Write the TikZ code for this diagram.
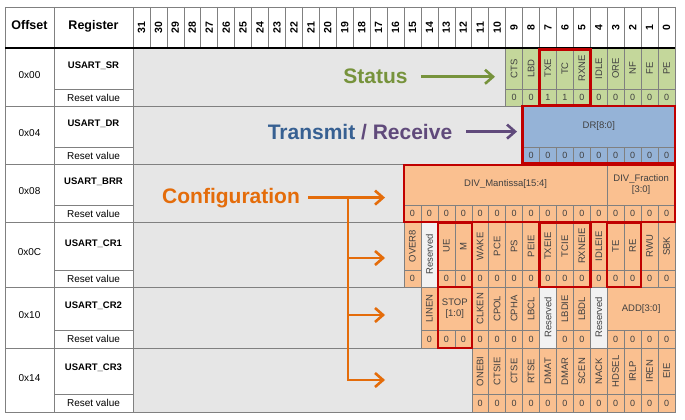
\documentclass[tikz,border=0pt]{standalone}
\usepackage{fontspec}
\setmainfont{Liberation Sans}
\usetikzlibrary{arrows.meta}

\definecolor{srgreen}{HTML}{C4D79B}
\definecolor{drblue}{HTML}{95B3D7}
\definecolor{cforange}{HTML}{FAC090}
\definecolor{bggray}{HTML}{E6E6E6}
\definecolor{rsvgray}{HTML}{F2F2F2}
\definecolor{gridgray}{HTML}{808080}
\definecolor{boxred}{HTML}{C00000}
\definecolor{statgreen}{HTML}{77933C}
\definecolor{txblue}{HTML}{376092}
\definecolor{rxpurple}{HTML}{604A7B}
\definecolor{cfgorange}{HTML}{E46C0A}
\definecolor{celltext}{HTML}{404040}

\tikzset{
  declare function={bx(\k)=133+(31-\k)*16.9375;},
  cell/.style={draw=gridgray, line width=0.5pt},
  gridline/.style={draw=gridgray, line width=0.6pt},
  bitname/.style={rotate=90, inner sep=0pt, text=celltext, font=\fontsize{9.5}{10}\selectfont},
  fieldname/.style={inner sep=0pt, align=center, text=celltext, font=\fontsize{9.5}{11}\selectfont},
  rstval/.style={inner sep=0pt, text=celltext, font=\fontsize{9}{10}\selectfont},
  bitnum/.style={rotate=90, inner sep=0pt, font=\bfseries\fontsize{10.5}{12}\selectfont},
  hdr/.style={inner sep=0pt, anchor=base, font=\bfseries\fontsize{12.5}{14}\selectfont},
  regname/.style={inner sep=0pt, font=\bfseries\fontsize{9.5}{11}\selectfont},
  regtext/.style={inner sep=0pt, font=\fontsize{10}{12}\selectfont},
  redbox/.style={draw=boxred, line width=2.4pt},
  callout/.style={inner sep=0pt, anchor=base, font=\bfseries\fontsize{21}{24}\selectfont},
  arr/.style={line width=2.6pt, -{Straight Barb[length=8pt,width=14pt]}},
}

% one field: name, high bit, low bit, top, bottom, fill, text style, text
\newcommand{\regfield}[8]{%
  \draw[cell, fill=#6] ({bx(#2)},#4) rectangle ({bx(#3-1)},#5);
  \node[#7] (#1) at ({(bx(#2)+bx(#3-1))/2},{(#4+#5)/2}) {#8};}

\begin{document}
\begin{tikzpicture}[x=1pt,y=-1pt]
    \useasboundingbox (0,0) rectangle (685,420);
    \fill[bggray] (133,48) rectangle (675,412);

    % header
    \node[hdr] (offhd) at (29.5,29.5) {Offset};
    \node[hdr] (reghd) at (93.5,29.5) {Register};
    \foreach \k in {-1,...,30} \draw[gridline] ({bx(\k)},7) -- ({bx(\k)},48);
    \foreach \k in {0,...,31} \node[bitnum] (h\k) at ({bx(\k)+8.47},27.5) {\k};

    % offset and register columns
    \foreach \n/\o/\r/\t/\m/\e/\dy in {sr/0x00/USART\_SR/48/89/106/18,
        dr/0x04/USART\_DR/106/147/164/18, brr/0x08/USART\_BRR/164/205/222/18,
        cra/0x0C/USART\_CR1/222/270.5/287/22, crb/0x10/USART\_CR2/287/330.5/348/19,
        crc/0x14/USART\_CR3/348/394.5/412/20}{
      \node[regtext] (off\n) at (29.5,{(\t+\e)/2-2}) {\o};
      \node[regname] (reg\n) at (93.5,\t+\dy) {\r};
      \node[regtext] (rst\n) at (93.5,{(\m+\e)/2}) {Reset value};
      \draw[gridline] (5,\e) -- (675,\e);
      \draw[gridline] (54,\m) -- (133,\m);
    }
    \draw[gridline] (5,7) -- (675,7);
    \foreach \x in {5,54,133,675} \draw[gridline] (\x,7) -- (\x,412);

    % USART_SR
    \foreach \k/\f/\v in {9/CTS/0,8/LBD/0,7/TXE/1,6/TC/1,5/RXNE/0,4/IDLE/0,3/ORE/0,2/NF/0,1/FE/0,0/PE/0}{
      \regfield{sr\k}{\k}{\k}{48}{89}{srgreen}{bitname}{\f}
      \regfield{srv\k}{\k}{\k}{89}{106}{srgreen}{rstval}{\v}}

    % USART_DR
    \regfield{dr}{8}{0}{106}{147}{drblue}{fieldname}{DR[8:0]}
    \foreach \k in {0,...,8}{\regfield{drv\k}{\k}{\k}{147}{164}{drblue}{rstval}{0}}

    % USART_BRR
    \regfield{mant}{15}{4}{164}{205}{cforange}{fieldname}{DIV\_Mantissa[15:4]}
    \regfield{frac}{3}{0}{164}{205}{cforange}{fieldname}{DIV\_Fraction\\{}[3:0]}
    \foreach \k in {0,...,15}{\regfield{brrv\k}{\k}{\k}{205}{222}{cforange}{rstval}{0}}

    % USART_CR1
    \foreach \k/\f in {15/OVER8,13/UE,12/M,11/WAKE,10/PCE,9/PS,8/PEIE,7/TXEIE,6/TCIE,
        5/RXNEIE,4/IDLEIE,3/TE,2/RE,1/RWU,0/SBK}{
      \regfield{cra\k}{\k}{\k}{222}{270.5}{cforange}{bitname}{\f}
      \regfield{crav\k}{\k}{\k}{270.5}{287}{cforange}{rstval}{0}}
    \regfield{crarsv}{14}{14}{222}{287}{rsvgray}{bitname}{Reserved}

    % USART_CR2
    \foreach \k/\f in {14/LINEN,11/CLKEN,10/CPOL,9/CPHA,8/LBCL,6/LBDIE,5/LBDL}{
      \regfield{crb\k}{\k}{\k}{287}{330.5}{cforange}{bitname}{\f}}
    \regfield{stop}{13}{12}{287}{330.5}{cforange}{fieldname}{STOP\\{}[1:0]}
    \regfield{add}{3}{0}{287}{330.5}{cforange}{fieldname}{ADD[3:0]}
    \foreach \k in {14,13,12,11,10,9,8,6,5,3,2,1,0}{
      \regfield{crbv\k}{\k}{\k}{330.5}{348}{cforange}{rstval}{0}}
    \foreach \k in {7,4}{\regfield{crbrsv\k}{\k}{\k}{287}{348}{rsvgray}{bitname}{Reserved}}

    % USART_CR3
    \foreach \k/\f in {11/ONEBI,10/CTSIE,9/CTSE,8/RTSE,7/DMAT,6/DMAR,5/SCEN,4/NACK,
        3/HDSEL,2/IRLP,1/IREN,0/EIE}{
      \regfield{crc\k}{\k}{\k}{348}{394.5}{cforange}{bitname}{\f}
      \regfield{crcv\k}{\k}{\k}{394.5}{412}{cforange}{rstval}{0}}

    \draw[line width=2.2pt] (5,48) -- (675,48);

    % highlighted bits
    \draw[redbox] ({bx(7)},49.5) rectangle ({bx(4)},105);
    \draw[redbox] ({bx(8)},106) rectangle ({bx(-1)},163.5);
    \draw[redbox] ({bx(15)},165) rectangle ({bx(-1)},222);
    \draw[redbox] ({bx(13)},223) rectangle ({bx(11)},287);
    \draw[redbox] ({bx(7)},223) rectangle ({bx(4)},287);
    \draw[redbox] ({bx(3)},223) rectangle ({bx(1)},287);
    \draw[redbox] ({bx(13)},287) rectangle ({bx(11)},348);

    % callouts
    \node[callout, text=statgreen] (status) at (375.5,84) {Status};
    \coordinate (sttip) at (495,76);
    \draw[arr, color=statgreen, shorten <=13pt] (status.east) -- (status.east -| sttip);

    \node[callout] (txrx) at (360,139) {\textcolor{txblue}{Transmit} \textcolor{rxpurple}{/ Receive}};
    \coordinate (txtip) at (517,132);
    \draw[arr, color=rxpurple, shorten <=14pt] (txrx.east) -- (txrx.east -| txtip);

    \node[callout, text=cfgorange] (config) at (231,203) {Configuration};
    \coordinate (cfgjn) at (348,195);
    \coordinate (cfg0) at (385,195);
    \coordinate (cfg1) at (385,258);
    \coordinate (cfg2) at (385,315);
    \coordinate (cfg3) at (385,380);
    \draw[arr, color=cfgorange, shorten <=8pt] (config.east) -- (config.east -| cfg0);
    \draw[arr, color=cfgorange] (config.east -| cfgjn) |- (cfg3);
    \draw[arr, color=cfgorange] (cfgjn |- cfg1) -- (cfg1);
    \draw[arr, color=cfgorange] (cfgjn |- cfg2) -- (cfg2);
\end{tikzpicture}
\end{document}
